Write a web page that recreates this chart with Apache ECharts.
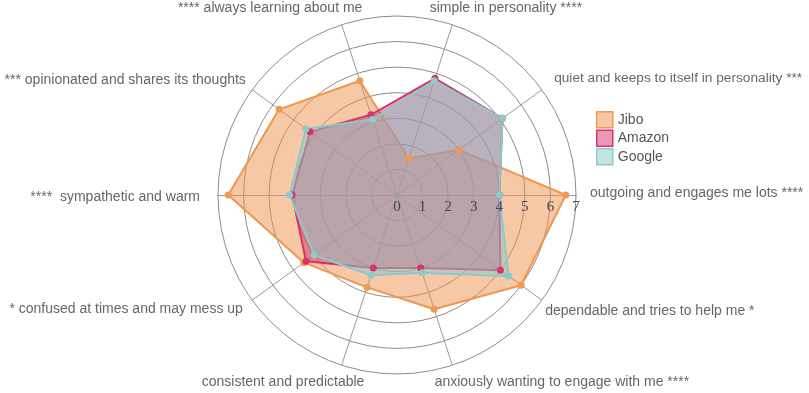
<!DOCTYPE html>
<html><head><meta charset="utf-8">
<script src="https://cdn.jsdelivr.net/npm/echarts@6/dist/echarts.min.js"></script>
<style>html,body{margin:0;padding:0;background:#fff}#c{width:809px;height:393px}</style>
</head><body><div id="c"></div>
<script>
// ---- data ----
const indicators = [
  'outgoing and engages me lots ****',
  'quiet and keeps to itself in personality ***',
  'simple in personality ****',
  '**** always learning about me',
  '*** opinionated and shares its thoughts',
  '****  sympathetic and warm',
  '* confused at times and may mess up',
  'consistent and predictable',
  'anxiously wanting to engage with me ****',
  'dependable and tries to help me *'
];
const tickLabels = ['0', '1', '2', '3', '4', '5', '6', '7'];
const seriesNames = ['Jibo', 'Amazon', 'Google'];
const jibo   = [6.6, 3.0, 1.5, 4.7, 5.7, 6.6, 4.5, 3.8, 4.7, 6.0];
const amazon = [4.0, 5.1, 4.8, 3.3, 4.2, 4.1, 4.4, 3.0, 3.0, 5.0];
const google = [4.0, 5.1, 4.7, 3.1, 4.4, 4.2, 4.0, 3.3, 3.2, 5.4];
const maxValue = 7;

// ---- layout & style ----
const CX = 397, CY = 195, R = 179;
const lineColors = ['#EE9A52', '#D8336B', '#8CCBCB'];
const areaColors = ['rgba(237,145,75,0.5)', 'rgba(214,51,108,0.5)', 'rgba(138,202,202,0.5)'];
const labelLayout = [
  {align: 'left',  dx: 0,   dy: -2, size: 14},
  {align: 'left',  dx: 1,   dy: -3, size: 13.7},
  {align: 'left',  dx: -27, dy: -3, size: 14},
  {align: 'right', dx: 25,  dy: -3, size: 14},
  {align: 'right', dx: 5,   dy: -1, size: 14},
  {align: 'right', dx: -4,  dy: 2,  size: 14},
  {align: 'right', dx: 2,   dy: 1,  size: 14},
  {align: 'right', dx: 27,  dy: 4,  size: 14},
  {align: 'left',  dx: -22, dy: 4,  size: 14},
  {align: 'left',  dx: -8,  dy: 3,  size: 14}
];

const chart = echarts.init(document.getElementById('c'), null, {renderer: 'canvas'});

const graphics = indicators.map((name, i) => {
  const a = i * 2 * Math.PI / indicators.length;
  const L = labelLayout[i];
  return {
    type: 'text',
    x: CX + (R + 14) * Math.cos(a) + L.dx,
    y: CY - (R + 14) * Math.sin(a) + L.dy,
    z: 100,
    style: {text: name, textAlign: L.align, textVerticalAlign: 'middle', fill: '#666',
      font: L.size + 'px "Liberation Sans", Arial, Helvetica, sans-serif'}
  };
});

const values = [jibo, amazon, google];

chart.setOption({
  animation: false,
  backgroundColor: '#fff',
  legend: {
    orient: 'vertical', left: 591, top: 106, itemWidth: 16, itemHeight: 16, itemGap: 1,
    icon: 'rect',
    textStyle: {fontSize: 14, color: '#555', fontFamily: '"Liberation Sans", Arial, sans-serif'},
    data: seriesNames.map((n, i) => ({
      name: n,
      itemStyle: {color: areaColors[i], borderColor: lineColors[i], borderWidth: 1.5}
    }))
  },
  radar: {
    center: [CX, CY], radius: R, startAngle: 0, splitNumber: 7, shape: 'circle',
    indicator: indicators.map(n => ({name: n, min: 0, max: maxValue})),
    axisName: {show: false},
    splitLine: {lineStyle: {color: '#8c8c8c', width: 1}},
    splitArea: {show: false},
    axisLine: {lineStyle: {color: '#9a9a9a', width: 1}},
    axisTick: {show: false},
    axisLabel: {show: false}
  },
  grid: {left: CX, top: CY - 1, width: R, height: 1},
  xAxis: {
    type: 'category', data: tickLabels, boundaryGap: false, z: 10,
    axisLine: {show: false}, axisTick: {show: false}, splitLine: {show: false},
    axisLabel: {interval: 0, color: '#3b4660', fontSize: 15, margin: 5,
      fontFamily: '"Liberation Serif", "DejaVu Serif", serif'}
  },
  yAxis: {type: 'value', show: false},
  series: [{
    type: 'radar',
    symbol: 'circle',
    symbolSize: 7,
    data: seriesNames.map((n, i) => ({
      name: n,
      value: values[i],
      lineStyle: {color: lineColors[i], width: 2},
      itemStyle: {color: lineColors[i]},
      areaStyle: {color: areaColors[i], opacity: 1}
    }))
  }],
  graphic: graphics
});
</script>
</body></html>
